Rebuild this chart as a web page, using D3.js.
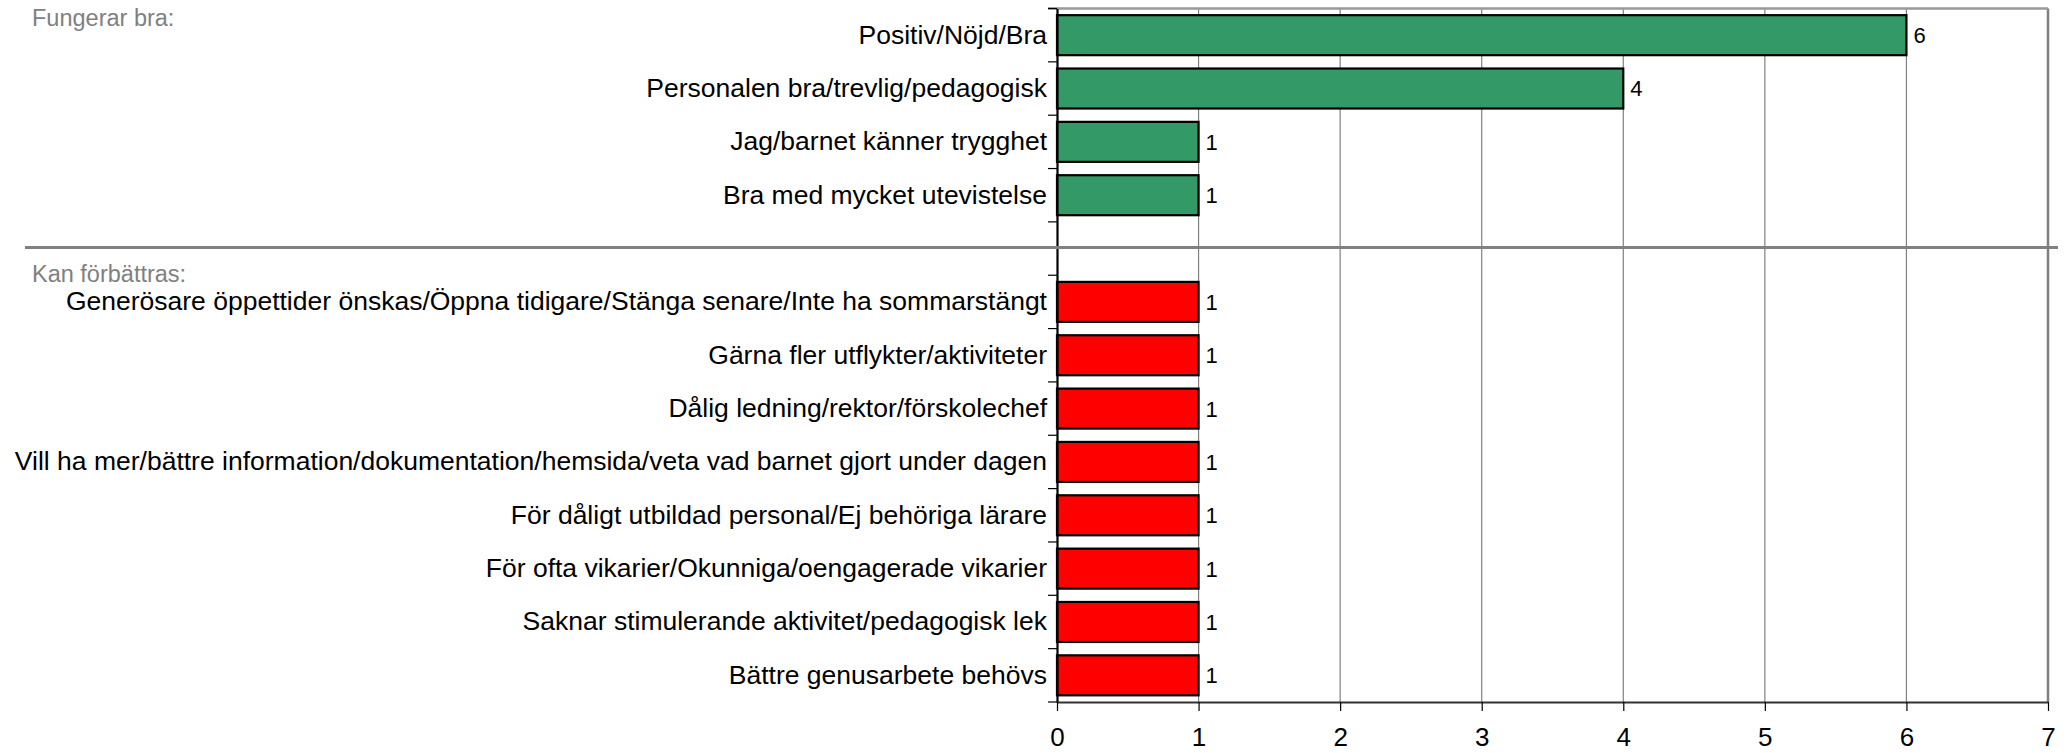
<!DOCTYPE html>
<html>
<head>
<meta charset="utf-8">
<script src="https://cdn.jsdelivr.net/npm/d3@7"></script>
<style>
  body { margin: 0; background: #fff; }
  text { font-family: "Liberation Sans", Arial, sans-serif; }
</style>
</head>
<body>
<script>
var w = 2069;
var h = 753;

// data
var goodLabels = ["Positiv/Nöjd/Bra", "Personalen bra/trevlig/pedagogisk", "Jag/barnet känner trygghet", "Bra med mycket utevistelse"];
var goodValues = [6, 4, 1, 1];
var badLabels = [
    "Generösare öppettider önskas/Öppna tidigare/Stänga senare/Inte ha sommarstängt",
    "Gärna fler utflykter/aktiviteter",
    "Dålig ledning/rektor/förskolechef",
    "Vill ha mer/bättre information/dokumentation/hemsida/veta vad barnet gjort under dagen",
    "För dåligt utbildad personal/Ej behöriga lärare",
    "För ofta vikarier/Okunniga/oengagerade vikarier",
    "Saknar stimulerande aktivitet/pedagogisk lek",
    "Bättre genusarbete behövs"
];
var badValues = [1, 1, 1, 1, 1, 1, 1, 1];
var xTicks = [0, 1, 2, 3, 4, 5, 6, 7];
var sectionTitles = ["Fungerar bra:", "Kan förbättras:"];

var margin = { top: 8.5, bottom: 51, left: 1057, right: 21 };
var width = w - margin.left - margin.right;
var height = h - margin.top - margin.bottom;

// build rows: good, one blank spacer, bad
var rows = [];
goodLabels.forEach(function(l, i){ rows.push({key: "g" + i, label: l, value: goodValues[i], color: "#339966"}); });
rows.push({key: "gap", label: "", value: null});
badLabels.forEach(function(l, i){ rows.push({key: "b" + i, label: l, value: badValues[i], color: "#ff0000"}); });

var svg = d3.select("body").append("svg")
    .attr("width", w)
    .attr("height", h);

var g = svg.append("g")
    .attr("transform", "translate(" + margin.left + "," + margin.top + ")");

var x = d3.scaleLinear().domain([0, 7]).range([0, width]);
var y = d3.scaleBand().domain(rows.map(function(d){ return d.key; })).range([0, height]).paddingInner(0.25).paddingOuter(0.125);

// gridlines
g.selectAll(".grid")
    .data(xTicks.slice(1))
    .enter().append("line")
    .attr("x1", function(d){ return x(d); })
    .attr("x2", function(d){ return x(d); })
    .attr("y1", 0)
    .attr("y2", height)
    .attr("stroke", "#808080")
    .attr("stroke-width", function(d){ return d == 7 ? 2.5 : 1.2; });

// top border
g.append("line")
    .attr("x1", -9).attr("x2", width)
    .attr("y1", 0).attr("y2", 0)
    .attr("stroke", "#999").attr("stroke-width", 2.5);

// bars
var bars = rows.filter(function(d){ return d.value != null; });
g.selectAll(".bar")
    .data(bars)
    .enter().append("rect")
    .attr("x", 0)
    .attr("y", function(d){ return y(d.key); })
    .attr("width", function(d){ return x(d.value); })
    .attr("height", y.bandwidth())
    .attr("fill", function(d){ return d.color; })
    .attr("stroke", "#000")
    .attr("stroke-width", 2.2);

// value labels
g.selectAll(".val")
    .data(bars)
    .enter().append("text")
    .attr("x", function(d){ return x(d.value) + 7; })
    .attr("y", function(d){ return y(d.key) + y.bandwidth() / 2; })
    .attr("dy", "0.36em")
    .attr("font-size", 22)
    .text(function(d){ return d.value; });

// y axis
var yAxis = d3.axisLeft(y).tickSize(0).tickPadding(10)
    .tickFormat(function(k){ return rows.find(function(r){ return r.key == k; }).label; });
var ya = g.append("g").call(yAxis);
ya.select(".domain").attr("stroke", "#000").attr("stroke-width", 2.2);
ya.selectAll("text").attr("font-size", 26.5).attr("fill", "#000");

// y tick marks between bands
var step = y.step();
g.selectAll(".ytick")
    .data(d3.range(rows.length + 1))
    .enter().append("line")
    .attr("x1", -9).attr("x2", 0)
    .attr("y1", function(i){ return i * step; })
    .attr("y2", function(i){ return i * step; })
    .attr("stroke", "#000").attr("stroke-width", 1.2);

// x axis
var xAxis = d3.axisBottom(x).tickValues(xTicks).tickFormat(d3.format("d"))
    .tickSize(9).tickPadding(17).tickSizeOuter(0);
var xa = g.append("g")
    .attr("transform", "translate(0," + height + ")")
    .call(xAxis);
xa.select(".domain").attr("stroke", "#333").attr("stroke-width", 2);
xa.selectAll("line").attr("stroke", "#000").attr("stroke-width", 1.2);
xa.selectAll("text").attr("font-size", 26).attr("fill", "#000");

// section separator
var sepY = margin.top + y("gap") + y.bandwidth() / 2 - 1;
svg.append("line")
    .attr("x1", 25).attr("x2", 2058)
    .attr("y1", sepY).attr("y2", sepY)
    .attr("stroke", "#808080").attr("stroke-width", 3);

// section titles
svg.selectAll(".sect")
    .data(sectionTitles)
    .enter().append("text")
    .attr("x", 32)
    .attr("y", function(d, i){ return i == 0 ? 26 : 282; })
    .attr("font-size", 23.5)
    .attr("fill", "#808080")
    .text(function(d){ return d; });
</script>
</body>
</html>
